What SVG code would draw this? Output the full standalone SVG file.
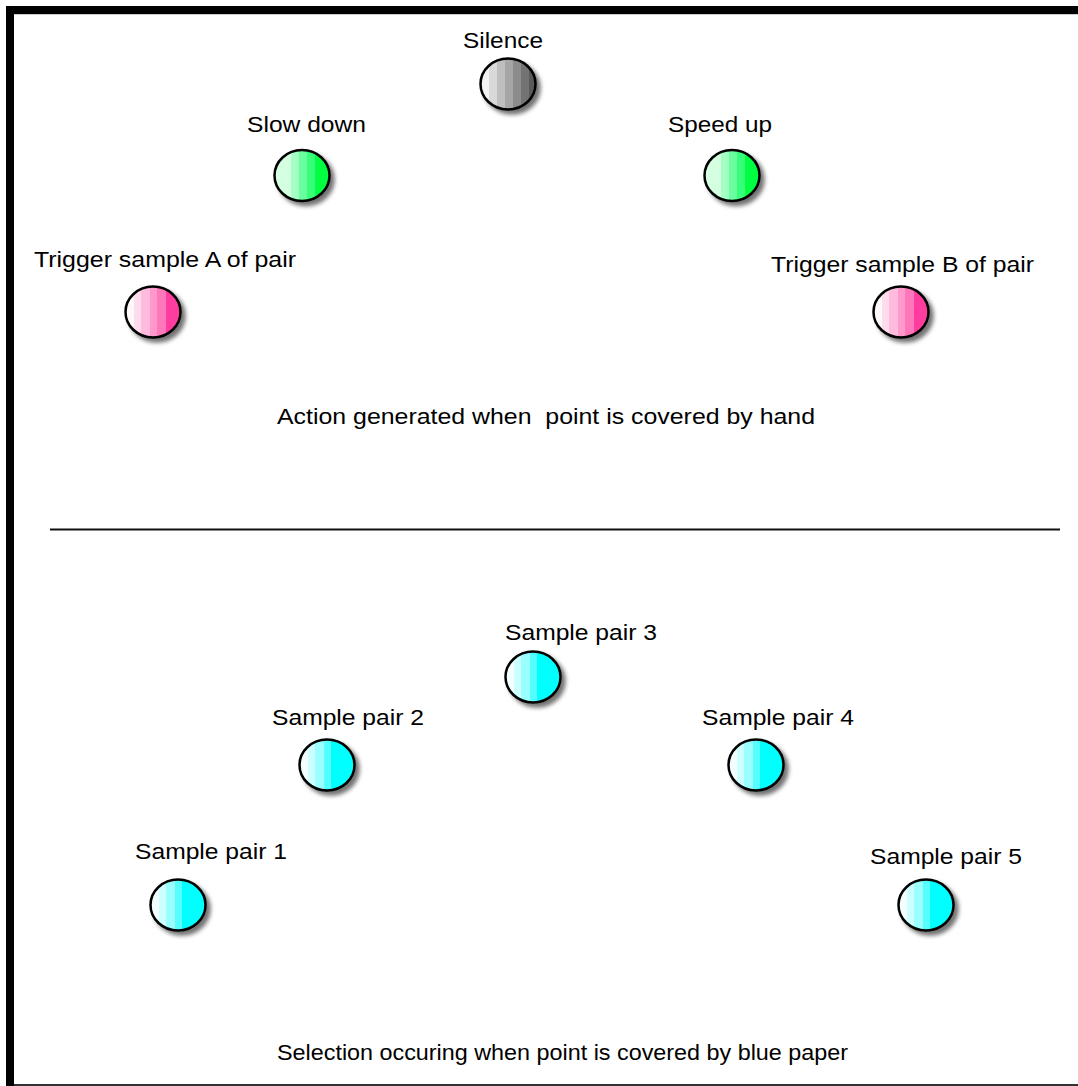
<svg xmlns="http://www.w3.org/2000/svg" width="1078" height="1086" viewBox="0 0 1078 1086">
<style>
.lbl{font-family:"Liberation Sans",Arial,Helvetica,sans-serif;font-size:22px;fill:#000}
.dot{stroke:#000;stroke-width:2.5;filter:url(#sh)}
</style>
<defs>
<filter id="sh" x="-30%" y="-30%" width="170%" height="170%">
<feDropShadow dx="4" dy="4" stdDeviation="2" flood-color="#000" flood-opacity="0.55"/>
</filter>
<linearGradient id="gGray" x1="0" y1="0" x2="1" y2="0">
<stop offset="0" stop-color="#f2f2f2"/><stop offset="0.147" stop-color="#f2f2f2"/>
<stop offset="0.147" stop-color="#d9d9d9"/><stop offset="0.294" stop-color="#d9d9d9"/>
<stop offset="0.294" stop-color="#bfbfbf"/><stop offset="0.441" stop-color="#bfbfbf"/>
<stop offset="0.441" stop-color="#a6a6a6"/><stop offset="0.588" stop-color="#a6a6a6"/>
<stop offset="0.588" stop-color="#8c8c8c"/><stop offset="0.735" stop-color="#8c8c8c"/>
<stop offset="0.735" stop-color="#737373"/><stop offset="0.882" stop-color="#737373"/>
<stop offset="0.882" stop-color="#5a5a5a"/><stop offset="1" stop-color="#5a5a5a"/>
</linearGradient>
<linearGradient id="gGreen" x1="0" y1="0" x2="1" y2="0">
<stop offset="0" stop-color="#d4ffe0"/><stop offset="0.294" stop-color="#d4ffe0"/>
<stop offset="0.294" stop-color="#a3ffc2"/><stop offset="0.441" stop-color="#a3ffc2"/>
<stop offset="0.441" stop-color="#6bff9e"/><stop offset="0.588" stop-color="#6bff9e"/>
<stop offset="0.588" stop-color="#38ff7a"/><stop offset="0.735" stop-color="#38ff7a"/>
<stop offset="0.735" stop-color="#00ff40"/><stop offset="1" stop-color="#00ff40"/>
</linearGradient>
<linearGradient id="gPink" x1="0" y1="0" x2="1" y2="0">
<stop offset="0" stop-color="#fff8fb"/><stop offset="0.15" stop-color="#fff8fb"/>
<stop offset="0.15" stop-color="#ffdcec"/><stop offset="0.29" stop-color="#ffdcec"/>
<stop offset="0.29" stop-color="#ffbbdd"/><stop offset="0.44" stop-color="#ffbbdd"/>
<stop offset="0.44" stop-color="#ff99cc"/><stop offset="0.58" stop-color="#ff99cc"/>
<stop offset="0.58" stop-color="#ff77bb"/><stop offset="0.73" stop-color="#ff77bb"/>
<stop offset="0.73" stop-color="#ff3d9e"/><stop offset="1" stop-color="#ff3d9e"/>
</linearGradient>
<linearGradient id="gCyan" x1="0" y1="0" x2="1" y2="0">
<stop offset="0" stop-color="#f4ffff"/><stop offset="0.15" stop-color="#f4ffff"/>
<stop offset="0.15" stop-color="#ccffff"/><stop offset="0.29" stop-color="#ccffff"/>
<stop offset="0.29" stop-color="#99ffff"/><stop offset="0.44" stop-color="#99ffff"/>
<stop offset="0.44" stop-color="#55ffff"/><stop offset="0.58" stop-color="#55ffff"/>
<stop offset="0.58" stop-color="#00ffff"/><stop offset="1" stop-color="#00ffff"/>
</linearGradient>
</defs>
<rect width="1078" height="1086" fill="#fff"/>
<g id="frame">
<rect x="6" y="6" width="1072" height="8" fill="#000"/>
<rect x="6" y="6" width="8" height="1080" fill="#000"/>
<line x1="14" y1="14.5" x2="1078" y2="14.5" stroke="#ccc" stroke-width="1"/>
<line x1="14" y1="1085" x2="1078" y2="1085" stroke="#333" stroke-width="2"/>
<line x1="50" y1="529.5" x2="1060" y2="529.5" stroke="#111" stroke-width="2"/>
</g>
<g id="connectors"></g>
<g id="silence"><text class="lbl" x="463" y="48" textLength="80" lengthAdjust="spacingAndGlyphs">Silence</text><ellipse class="dot" cx="508" cy="84" rx="27.5" ry="25.5" fill="url(#gGray)"/></g>
<g id="slowdown"><text class="lbl" x="247" y="132" textLength="119" lengthAdjust="spacingAndGlyphs">Slow down</text><ellipse class="dot" cx="302" cy="175.5" rx="27.5" ry="25.5" fill="url(#gGreen)"/></g>
<g id="speedup"><text class="lbl" x="668" y="132" textLength="104" lengthAdjust="spacingAndGlyphs">Speed up</text><ellipse class="dot" cx="732" cy="175.5" rx="27.5" ry="25.5" fill="url(#gGreen)"/></g>
<g id="triggerA"><text class="lbl" x="34" y="267" textLength="262" lengthAdjust="spacingAndGlyphs">Trigger sample A of pair</text><ellipse class="dot" cx="153" cy="312" rx="27.5" ry="25.5" fill="url(#gPink)"/></g>
<g id="triggerB"><text class="lbl" x="771" y="272" textLength="263" lengthAdjust="spacingAndGlyphs">Trigger sample B of pair</text><ellipse class="dot" cx="901" cy="312" rx="27.5" ry="25.5" fill="url(#gPink)"/></g>
<g id="caption1"><text class="lbl" x="277" y="424" textLength="538" lengthAdjust="spacingAndGlyphs" xml:space="preserve">Action generated when  point is covered by hand</text></g>
<g id="pair3"><text class="lbl" x="505" y="640" textLength="152" lengthAdjust="spacingAndGlyphs">Sample pair 3</text><ellipse class="dot" cx="533" cy="677" rx="27.5" ry="25.5" fill="url(#gCyan)"/></g>
<g id="pair2"><text class="lbl" x="272" y="725" textLength="152" lengthAdjust="spacingAndGlyphs">Sample pair 2</text><ellipse class="dot" cx="327" cy="765" rx="27.5" ry="25.5" fill="url(#gCyan)"/></g>
<g id="pair4"><text class="lbl" x="702" y="725" textLength="152" lengthAdjust="spacingAndGlyphs">Sample pair 4</text><ellipse class="dot" cx="756" cy="765" rx="27.5" ry="25.5" fill="url(#gCyan)"/></g>
<g id="pair1"><text class="lbl" x="135" y="859" textLength="152" lengthAdjust="spacingAndGlyphs">Sample pair 1</text><ellipse class="dot" cx="178" cy="905" rx="27.5" ry="25.5" fill="url(#gCyan)"/></g>
<g id="pair5"><text class="lbl" x="870" y="864" textLength="152" lengthAdjust="spacingAndGlyphs">Sample pair 5</text><ellipse class="dot" cx="926" cy="905" rx="27.5" ry="25.5" fill="url(#gCyan)"/></g>
<g id="caption2"><text class="lbl" x="277" y="1060" textLength="571" lengthAdjust="spacingAndGlyphs">Selection occuring when point is covered by blue paper</text></g>
</svg>
